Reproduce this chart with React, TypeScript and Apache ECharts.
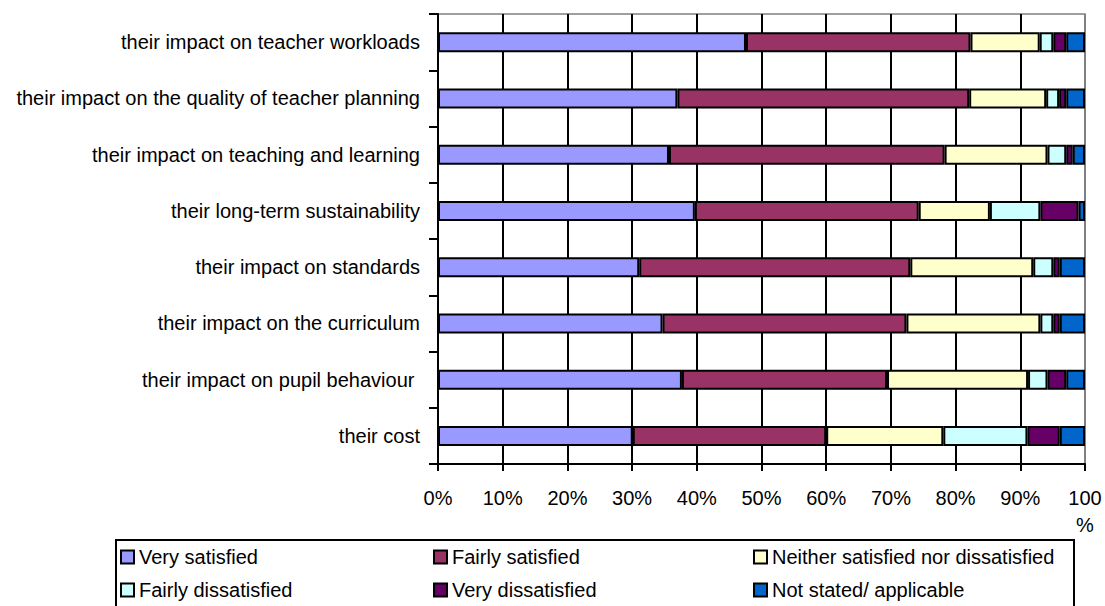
import React, { useEffect, useRef } from "react";
import * as echarts from "echarts";

const categories = [
  "their impact on teacher workloads",
  "their impact on the quality of teacher planning",
  "their impact on teaching and learning",
  "their long-term sustainability",
  "their impact on standards",
  "their impact on the curriculum",
  "their impact on pupil behaviour ",
  "their cost",
];

const seriesNames = [
  "Very satisfied",
  "Fairly satisfied",
  "Neither satisfied nor dissatisfied",
  "Fairly dissatisfied",
  "Very dissatisfied",
  "Not stated/ applicable",
];

const verySatisfied = [47.6, 37.0, 35.7, 39.7, 31.1, 34.7, 37.7, 30.1];
const fairlySatisfied = [34.7, 45.1, 42.6, 34.6, 41.9, 37.7, 31.7, 29.9];
const neither = [10.7, 11.9, 15.9, 11.0, 19.0, 20.7, 21.8, 18.1];
const fairlyDissatisfied = [2.1, 2.0, 2.9, 7.8, 3.1, 2.0, 3.0, 13.0];
const veryDissatisfied = [2.0, 1.1, 1.0, 5.9, 1.0, 1.0, 2.9, 5.0];
const notStated = [2.9, 2.9, 1.9, 1.0, 3.9, 3.9, 2.9, 3.9];

const xTicks = [0, 10, 20, 30, 40, 50, 60, 70, 80, 90, 100];

const colors = ["#9999FF", "#993366", "#FFFFCC", "#CCFFFF", "#660066", "#0066CC"];

const FONT = "'Liberation Sans', Arial, sans-serif";

export default function App() {
  const ref = useRef<HTMLDivElement>(null);

  useEffect(() => {
    if (!ref.current) return;
    const chart = echarts.init(ref.current, undefined, { renderer: "svg" });
    const allData = [
      verySatisfied,
      fairlySatisfied,
      neither,
      fairlyDissatisfied,
      veryDissatisfied,
      notStated,
    ];

    const legendPos = [
      { left: 120, top: 547 },
      { left: 433, top: 547 },
      { left: 753, top: 547 },
      { left: 120, top: 580 },
      { left: 433, top: 580 },
      { left: 753, top: 580 },
    ];

    const option: any = {
      animation: false,
      backgroundColor: "#ffffff",
      textStyle: { fontFamily: FONT },
      grid: {
        left: 438,
        top: 14,
        width: 647,
        height: 450,
        show: true,
        borderColor: "#808080",
        borderWidth: 1.5,
        backgroundColor: "transparent",
      },
      legend: seriesNames.map((n, i) => ({
        data: [n],
        left: legendPos[i].left,
        top: legendPos[i].top,
        padding: 0,
        itemWidth: 13,
        itemHeight: 13,
        icon: "rect",
        selectedMode: false,
        itemStyle: { borderColor: "#000", borderWidth: 2 },
        textStyle: { fontSize: 20, color: "#000", fontFamily: FONT, lineHeight: 20 },
      })),
      xAxis: {
        type: "value",
        min: 0,
        max: 100,
        interval: 10,
        axisLine: { show: true, lineStyle: { color: "#000", width: 2 } },
        axisTick: { show: true, length: 7, lineStyle: { color: "#000", width: 2 } },
        axisLabel: {
          fontSize: 20,
          color: "#000",
          fontFamily: FONT,
          lineHeight: 27,
          margin: 20,
          formatter: (v: number) => {
            if (!xTicks.includes(v)) return "";
            return v === 100 ? "100\n%" : v + "%";
          },
        },
        splitLine: {
          show: true,
          lineStyle: {
            color: ["#000", "#000", "#000", "#000", "#000", "#000", "#000", "#000", "#000", "#000", "#808080"],
            width: 2,
          },
        },
      },
      yAxis: {
        type: "category",
        inverse: true,
        data: categories,
        axisLine: { show: true, lineStyle: { color: "#000", width: 2 } },
        axisTick: { show: true, length: 9, lineStyle: { color: "#000", width: 2 } },
        axisLabel: {
          fontSize: 20,
          color: "#000",
          fontFamily: FONT,
          margin: 18,
        },
        splitLine: { show: false },
      },
      series: seriesNames.map((n, i) => ({
        name: n,
        type: "bar",
        stack: "total",
        barWidth: 20,
        data: allData[i],
        itemStyle: { color: colors[i], borderColor: "#000", borderWidth: 2 },
        emphasis: { disabled: true },
      })),
      graphic: [
        {
          type: "rect",
          shape: { x: 116, y: 540, width: 958, height: 80 },
          style: { fill: "none", stroke: "#000", lineWidth: 2 },
          silent: true,
        },
      ],
    };

    chart.setOption(option);
    return () => chart.dispose();
  }, []);

  return (
    <div
      ref={ref}
      style={{ position: "absolute", left: 0, top: 0, width: 1105, height: 606 }}
    />
  );
}
